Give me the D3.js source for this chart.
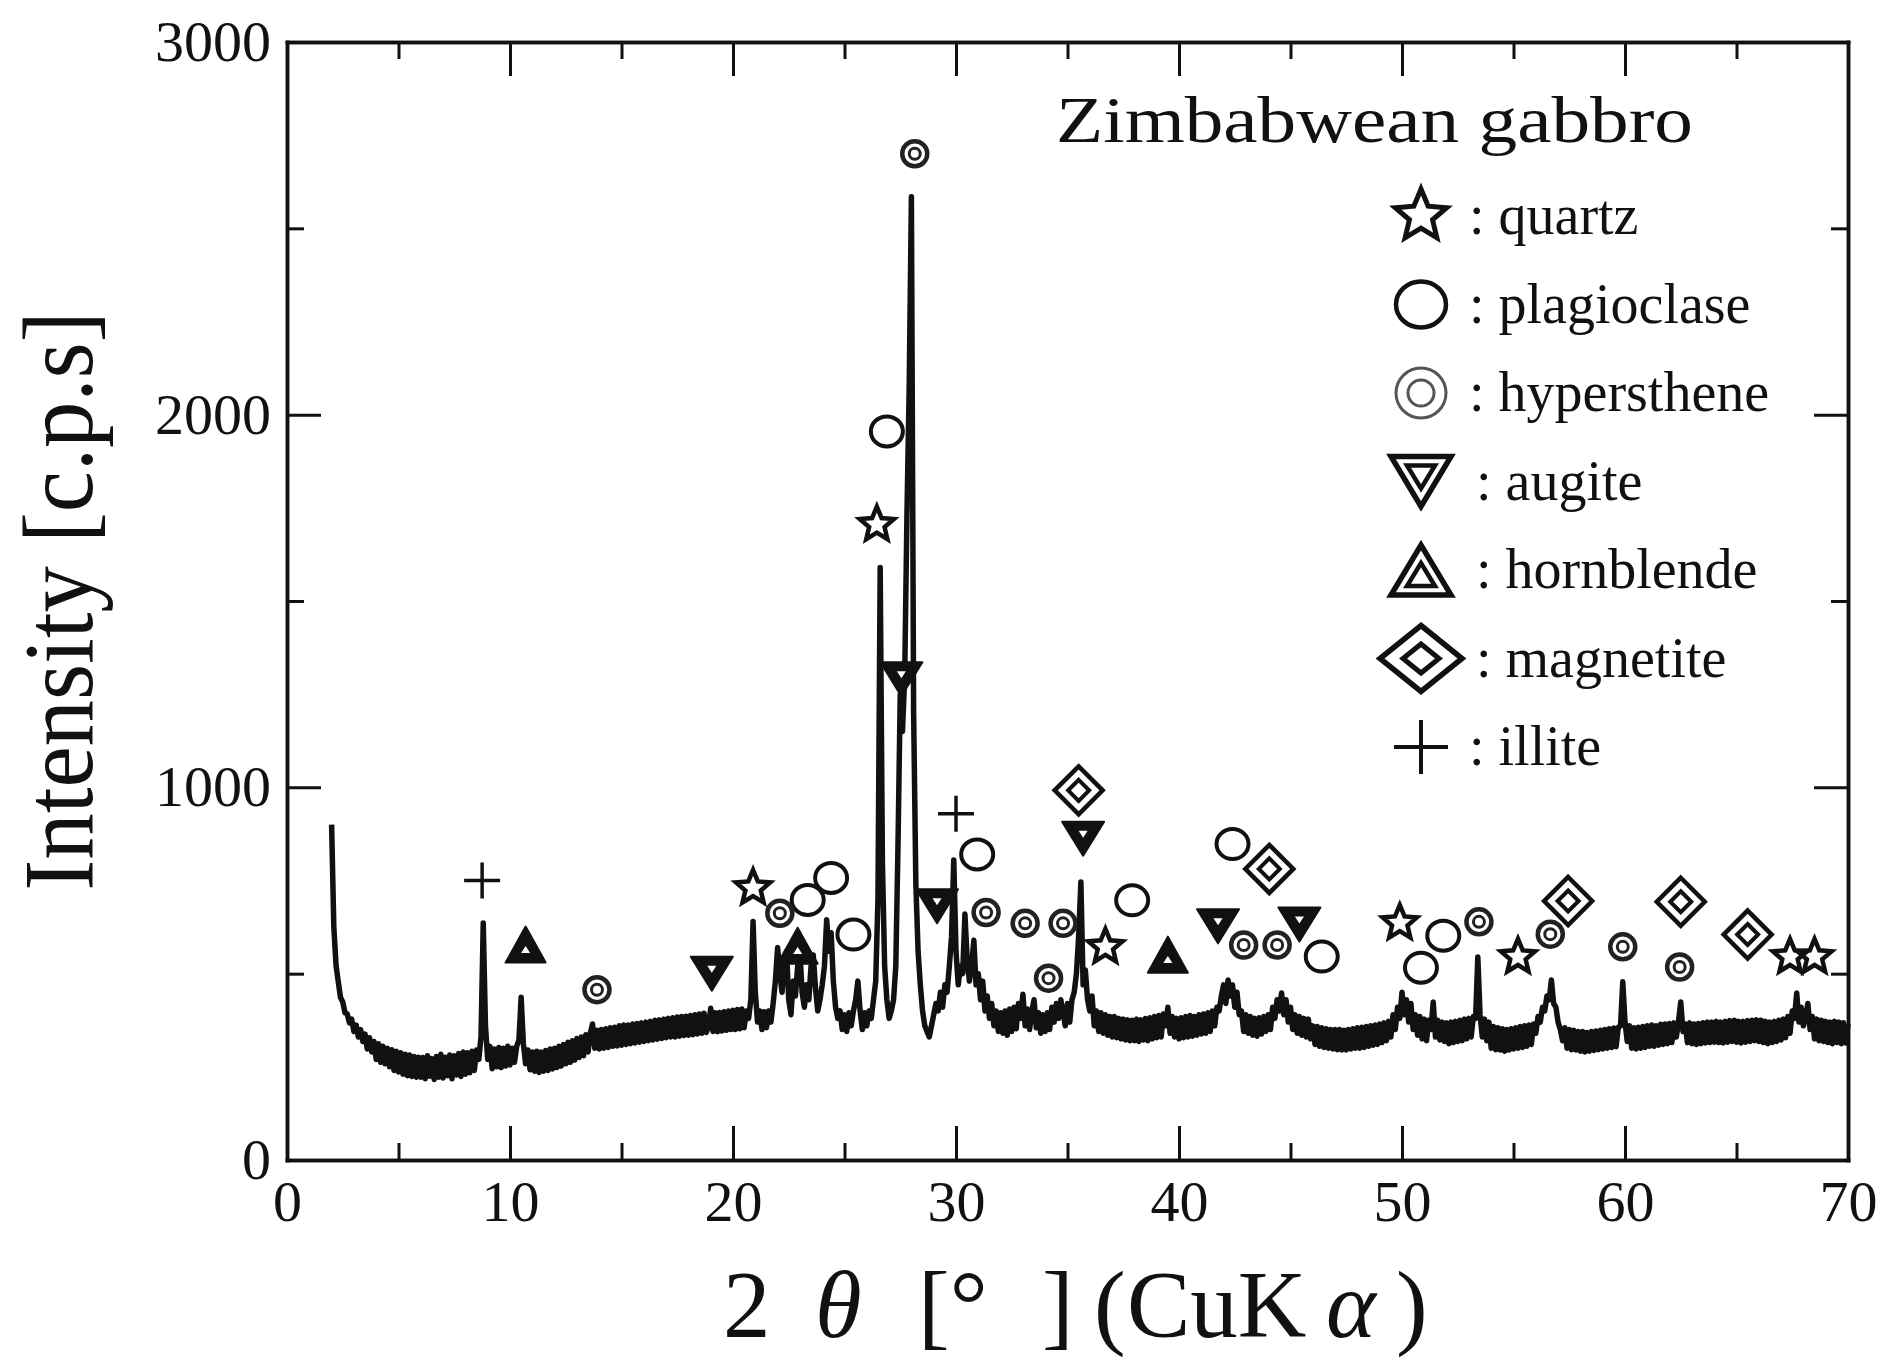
<!DOCTYPE html>
<html>
<head>
<meta charset="utf-8">
<script src="https://cdn.jsdelivr.net/npm/d3@7"></script>
<style>
  body { margin: 0; background: #fff; }
  svg { display: block; }
</style>
</head>
<body>
<div id="chart"></div>
<script>
// XRD scan: 2θ from scanStart in scanStep degrees, intensity in c.p.s
const scanStart = 2.0;
const scanStep = 0.1;
const intensity = [
  900, 625, 522, 478, 436, 424, 395, 392, 368, 378, 345, 362, 330, 350, 318, 338, 298, 328, 290, 318,
  270, 312, 262, 305, 258, 300, 250, 296, 240, 292, 236, 288, 230, 284, 226, 282, 224, 278, 222, 276,
  222, 275, 218, 280, 225, 272, 216, 278, 222, 284, 220, 276, 226, 282, 218, 280, 228, 286, 224, 290,
  230, 288, 234, 292, 240, 295, 270, 330, 636, 360, 270, 305, 245, 298, 250, 302, 248, 300, 252, 305,
  255, 300, 262, 305, 322, 437, 312, 258, 295, 242, 290, 238, 292, 235, 290, 238, 294, 240, 298, 244,
  300, 248, 305, 252, 310, 258, 316, 262, 320, 268, 326, 275, 330, 280, 336, 290, 340, 365, 300, 348,
  298, 350, 300, 352, 302, 355, 305, 356, 306, 360, 308, 362, 310, 362, 312, 365, 314, 366, 316, 368,
  318, 370, 320, 372, 322, 375, 324, 376, 326, 378, 328, 380, 330, 382, 330, 384, 332, 385, 334, 386,
  335, 388, 336, 390, 338, 392, 340, 394, 342, 360, 407, 345, 395, 344, 396, 346, 398, 348, 400, 350,
  402, 350, 404, 352, 405, 355, 400, 380, 430, 640, 450, 370, 400, 350, 398, 355, 400, 370, 420, 480,
  570, 500, 450, 540, 560, 430, 390, 480, 440, 520, 560, 450, 410, 470, 430, 520, 550, 460, 400, 430,
  470, 520, 645, 560, 610, 480, 410, 380, 400, 350, 390, 345, 395, 360, 400, 430, 480, 400, 350, 395,
  360, 400, 380, 430, 480, 700, 1590, 800, 520, 430, 380, 400, 430, 520, 850, 1250, 1150, 1300, 1730, 2070,
  2585, 1200, 740, 560, 470, 400, 360, 345, 330, 360, 390, 420, 400, 450, 410, 470, 450, 520, 600, 805,
  560, 470, 520, 500, 660, 540, 480, 520, 590, 470, 500, 430, 480, 400, 440, 380, 420, 360, 400, 345,
  395, 340, 400, 335, 405, 345, 410, 352, 420, 380, 445, 360, 405, 350, 400, 430, 355, 395, 340, 390,
  345, 395, 350, 410, 370, 420, 380, 430, 395, 360, 420, 370, 430, 450, 500, 600, 746, 470, 510, 430,
  400, 440, 360, 400, 345, 395, 340, 390, 335, 385, 330, 385, 328, 380, 325, 378, 322, 376, 320, 375,
  320, 378, 318, 376, 322, 380, 320, 382, 325, 385, 328, 388, 330, 392, 360, 410, 340, 385, 330, 380,
  325, 382, 328, 385, 330, 388, 332, 385, 335, 390, 338, 392, 340, 395, 345, 400, 360, 410, 400, 440,
  470, 420, 483, 440, 470, 410, 450, 390, 400, 345, 390, 340, 385, 335, 380, 332, 382, 338, 385, 345,
  390, 350, 410, 380, 430, 400, 448, 390, 430, 370, 410, 350, 390, 340, 385, 335, 380, 330, 378, 325,
  360, 310, 358, 305, 355, 302, 352, 300, 350, 298, 350, 296, 350, 295, 348, 295, 350, 298, 352, 300,
  355, 300, 356, 302, 358, 305, 360, 308, 362, 310, 365, 315, 368, 320, 372, 330, 390, 350, 410, 380,
  450, 390, 430, 370, 420, 350, 390, 335, 385, 325, 378, 320, 375, 350, 424, 330, 375, 322, 370, 318,
  368, 312, 370, 315, 372, 318, 375, 320, 378, 325, 380, 330, 385, 380, 545, 390, 330, 378, 320, 370,
  300, 358, 296, 355, 295, 352, 292, 350, 295, 352, 298, 355, 300, 358, 302, 360, 305, 362, 310, 365,
  340, 385, 370, 410, 400, 440, 430, 483, 420, 410, 370, 350, 320, 355, 300, 350, 296, 348, 295, 345,
  292, 345, 290, 342, 292, 345, 294, 346, 296, 348, 298, 350, 300, 352, 302, 354, 304, 356, 360, 478,
  370, 318, 360, 300, 355, 298, 356, 300, 358, 302, 360, 305, 362, 305, 360, 308, 364, 310, 365, 312,
  366, 315, 368, 330, 372, 424, 345, 365, 315, 368, 312, 365, 310, 366, 312, 368, 314, 370, 315, 370,
  316, 372, 315, 370, 314, 372, 316, 374, 318, 375, 316, 372, 314, 372, 316, 374, 318, 375, 320, 376,
  318, 375, 315, 372, 312, 370, 315, 372, 318, 375, 322, 378, 328, 385, 340, 400, 380, 448, 370, 410,
  360, 385, 420, 350, 385, 325, 378, 320, 375, 318, 372, 315, 370, 312, 372, 315, 370, 312, 368, 314,
  365
];

// peak markers [2θ, c.p.s] for each mineral
const quartzPeaks = [[20.9, 730], [26.45, 1705], [36.7, 572], [49.9, 636], [55.2, 545], [67.4, 545], [68.5, 545]];
const plagioclasePeaks = [[23.35, 698], [24.4, 757], [25.4, 605], [26.9, 1955], [30.95, 820], [37.9, 697],
  [42.4, 848], [46.4, 546], [50.85, 516], [51.85, 602]];
const hypersthenePeaks = [[13.9, 457], [22.1, 662], [28.15, 2700], [31.35, 664], [33.1, 635], [34.15, 488],
  [34.8, 635], [42.9, 577], [44.4, 577], [53.45, 639], [56.65, 606], [59.9, 572], [62.45, 518]];
const augitePeaks = [[19.05, 500], [27.55, 1290], [29.15, 681], [35.7, 862], [41.75, 627], [45.4, 632]];
const hornblendePeaks = [[10.7, 578], [22.9, 575], [39.5, 551]];
const magnetitePeaks = [[35.5, 992], [44.05, 781], [57.45, 695], [62.5, 693], [65.5, 605]];
const illitePeaks = [[8.75, 750], [30.0, 929]];

const minerals = ["quartz", "plagioclase", "hypersthene", "augite", "hornblende", "magnetite", "illite"];
const legendLabels = [": quartz", ": plagioclase", ": hypersthene", ": augite", ": hornblende", ": magnetite", ": illite"];
const legendTitle = "Zimbabwean gabbro";

const xMajorTicks = [0, 10, 20, 30, 40, 50, 60, 70];
const xMinorTicks = [5, 15, 25, 35, 45, 55, 65];
const yMajorTicks = [0, 1000, 2000, 3000];
const yMinorTicks = [500, 1500, 2500];

const peakSets = {
  quartz: quartzPeaks, plagioclase: plagioclasePeaks, hypersthene: hypersthenePeaks,
  augite: augitePeaks, hornblende: hornblendePeaks, magnetite: magnetitePeaks, illite: illitePeaks
};

const width = 1885;
const height = 1361;
const margin = { top: 42, right: 37, bottom: 201, left: 287 };
const serif = "'Liberation Serif', 'Times New Roman', serif";
const ink = "#111";

const svg = d3.select("#chart")
  .append("svg")
  .attr("width", width)
  .attr("height", height);

const x = d3.scaleLinear()
  .domain([0, 70])
  .range([margin.left, width - margin.right]);

const y = d3.scaleLinear()
  .domain([0, 3000])
  .range([height - margin.bottom, margin.top]);

// axes: ticks point inward on all four sides
function styleAxis(g, fontSize) {
  g.attr("font-family", serif).attr("font-size", fontSize);
  g.select(".domain").attr("stroke", ink).attr("stroke-width", 3.5).attr("stroke-linecap", "square");
  g.selectAll(".tick line").attr("stroke", ink).attr("stroke-width", 3);
  g.selectAll(".tick text").attr("fill", ink);
}

function addAxis(axisFn, scale, transform, values, size, labels, pad) {
  const a = axisFn(scale).tickValues(values).tickSize(-size).tickSizeOuter(0).tickPadding(pad || 0);
  if (!labels) a.tickFormat(() => "");
  else a.tickFormat(d3.format("d"));
  const g = svg.append("g").attr("transform", transform).call(a);
  styleAxis(g, 58);
  return g;
}

const bottomT = `translate(0,${y(0)})`;
const topT = `translate(0,${y(3000)})`;
const leftT = `translate(${x(0)},0)`;
const rightT = `translate(${x(70)},0)`;

addAxis(d3.axisBottom, x, bottomT, xMajorTicks, 34, true, 20);
addAxis(d3.axisBottom, x, bottomT, xMinorTicks, 17, false);
addAxis(d3.axisTop, x, topT, xMajorTicks, 34, false);
addAxis(d3.axisTop, x, topT, xMinorTicks, 17, false);
addAxis(d3.axisLeft, y, leftT, yMajorTicks, 34, true, 16);
addAxis(d3.axisLeft, y, leftT, yMinorTicks, 17, false);
addAxis(d3.axisRight, y, rightT, yMajorTicks, 34, false);
addAxis(d3.axisRight, y, rightT, yMinorTicks, 17, false);

// diffraction pattern
const line = d3.line()
  .x((d, i) => x(scanStart + i * scanStep))
  .y(d => y(d));

svg.append("path")
  .datum(intensity)
  .attr("fill", "none")
  .attr("stroke", ink)
  .attr("stroke-width", 5.5)
  .attr("stroke-linejoin", "round")
  .attr("d", line);

// marker shapes
function starPath(R, r) {
  const pts = d3.range(10).map(i => {
    const a = -Math.PI / 2 + i * Math.PI / 5;
    const rad = i % 2 ? r : R;
    return [rad * Math.cos(a), rad * Math.sin(a)];
  });
  return "M" + pts.join("L") + "Z";
}

// triangle with its bounding box centred on (0, cy)
function triPath(w, h, down, cy) {
  const s = down ? 1 : -1;
  const base = cy - s * h / 2;
  const tip = cy + s * h / 2;
  return `M${-w / 2},${base}L${w / 2},${base}L0,${tip}Z`;
}

function diamondPath(w, h) {
  return `M0,${-h / 2}L${w / 2},0L0,${h / 2}L${-w / 2},0Z`;
}

function drawMarker(g, kind, big) {
  if (kind === "quartz") {
    const R = big ? 27 : 18;
    g.append("path").attr("d", starPath(R, R * 0.45))
      .attr("fill", "none").attr("stroke", ink).attr("stroke-width", big ? 5 : 4.5)
      .attr("stroke-linejoin", "miter");
  } else if (kind === "plagioclase") {
    g.append("ellipse").attr("rx", big ? 25 : 16).attr("ry", big ? 23 : 15)
      .attr("fill", "none").attr("stroke", ink).attr("stroke-width", big ? 4.5 : 4);
  } else if (kind === "hypersthene") {
    const c = big ? "#555" : "#222";
    g.append("circle").attr("r", big ? 25 : 12.5)
      .attr("fill", "none").attr("stroke", c).attr("stroke-width", big ? 3 : 4.5);
    g.append("circle").attr("r", big ? 13 : 5.5)
      .attr("fill", "none").attr("stroke", c).attr("stroke-width", 3);
  } else if (kind === "augite" || kind === "hornblende") {
    const down = kind === "augite";
    const s = down ? 1 : -1;
    if (big) {
      const w = 60, h = 50;
      g.append("path").attr("d", triPath(w, h, down, 0))
        .attr("fill", "none").attr("stroke", ink).attr("stroke-width", 5.5).attr("stroke-linejoin", "miter");
      g.append("path").attr("d", triPath(28, 23, down, -s * h / 6 + s * 23 / 6))
        .attr("fill", "none").attr("stroke", ink).attr("stroke-width", 4.5);
    } else {
      const w = down ? 42 : 40, h = down ? 34 : 36;
      g.append("path").attr("d", triPath(w, h, down, 0))
        .attr("fill", ink).attr("stroke", ink).attr("stroke-width", 2).attr("stroke-linejoin", "round");
      g.append("path").attr("d", triPath(9, 7, down, -s * h / 6 + s * 7 / 6))
        .attr("fill", "#fff");
    }
  } else if (kind === "magnetite") {
    g.append("path").attr("d", big ? diamondPath(82, 66) : diamondPath(48, 48))
      .attr("fill", "none").attr("stroke", ink).attr("stroke-width", big ? 5.5 : 4.5);
    g.append("path").attr("d", big ? diamondPath(36, 29) : diamondPath(21, 21))
      .attr("fill", "none").attr("stroke", ink).attr("stroke-width", big ? 5 : 4);
  } else if (kind === "illite") {
    const L = big ? 27 : 18;
    g.append("path").attr("d", `M${-L},0H${L}M0,${-L}V${L}`)
      .attr("fill", "none").attr("stroke", ink).attr("stroke-width", big ? 4 : 3.5);
  }
}

// peak markers on the pattern
minerals.forEach(kind => {
  svg.append("g")
    .selectAll("g")
    .data(peakSets[kind])
    .enter()
    .append("g")
    .attr("transform", d => `translate(${x(d[0])},${y(d[1])})`)
    .each(function () { drawMarker(d3.select(this), kind, false); });
});

// legend
svg.append("text")
  .attr("x", 1056)
  .attr("y", 142)
  .attr("font-family", serif)
  .attr("font-size", 66)
  .attr("fill", ink)
  .attr("textLength", 637)
  .attr("lengthAdjust", "spacingAndGlyphs")
  .text(legendTitle);

const legend = svg.append("g")
  .selectAll("g")
  .data(minerals)
  .enter()
  .append("g")
  .attr("transform", (d, i) => `translate(1421,${234 + i * 88.5})`);

legend.append("g")
  .attr("transform", "translate(0,-18)")
  .each(function (d) { drawMarker(d3.select(this), d, true); });

legend.append("text")
  .attr("x", (d, i) => (i >= 3 && i <= 5) ? 55 : 48)
  .attr("font-family", serif)
  .attr("font-size", 56)
  .attr("fill", ink)
  .text((d, i) => legendLabels[i]);

// axis titles
svg.append("text")
  .attr("transform", `translate(92,${601}) rotate(-90)`)
  .attr("text-anchor", "middle")
  .attr("font-family", serif)
  .attr("font-size", 100)
  .attr("fill", ink)
  .attr("textLength", 579)
  .attr("lengthAdjust", "spacingAndGlyphs")
  .text("Intensity [c.p.s]");

const xTitleParts = [
  { t: "2", x: 723, italic: false },
  { t: "θ", x: 815, italic: true },
  { t: "[°", x: 918, italic: false },
  { t: "]", x: 1042, italic: false },
  { t: "(", x: 1094, italic: false },
  { t: "CuK", x: 1127, italic: false },
  { t: "α", x: 1326, italic: true },
  { t: ")", x: 1396, italic: false }
];

svg.append("g")
  .selectAll("text")
  .data(xTitleParts)
  .enter()
  .append("text")
  .attr("x", d => d.x)
  .attr("y", 1337)
  .attr("font-family", serif)
  .attr("font-size", 95)
  .attr("font-style", d => d.italic ? "italic" : "normal")
  .attr("fill", ink)
  .text(d => d.t);
</script>
</body>
</html>
